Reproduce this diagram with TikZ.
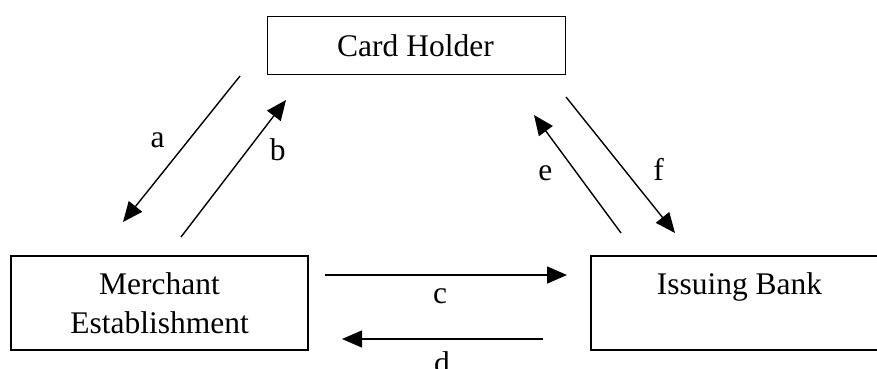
\documentclass[tikz,border=0pt]{standalone}
\usepackage{fontspec}
\setmainfont{Liberation Serif}
\usetikzlibrary{arrows.meta}
\begin{document}
\begin{tikzpicture}[x=1pt,y=-1pt,
  box/.style={draw, line width=1.8pt, inner sep=0pt, align=center,
    font=\fontsize{31.5}{39}\selectfont},
  arr/.style={line width=1.4pt, -{Triangle[length=20pt,width=17pt]}},
  lbl/.style={anchor=base, inner sep=0pt, font=\fontsize{31.5}{39}\selectfont}]
\useasboundingbox (0,0) rectangle (877,368);
\clip (0,0) rectangle (877,368);
% boxes
\node[box, minimum width=298pt, minimum height=58pt] (ch) at (416.5,45.4) {};
\node[lbl] (cht) at (415.5,56) {Card Holder};
\node[box, minimum width=297pt, minimum height=94pt] (me) at (159.5,303) {Merchant\\Establishment};
\node[box, minimum width=297pt, minimum height=94pt] (ib) at (739.5,303) {Issuing Bank\\\mbox{}};
% arrow end points
\coordinate (a1) at (240,76);  \coordinate (a2) at (123,222);
\coordinate (b1) at (181,237); \coordinate (b2) at (286,100);
\coordinate (c1) at (325,275); \coordinate (c2) at (567,275);
\coordinate (d1) at (543,339); \coordinate (d2) at (342,339);
\coordinate (e1) at (621,233); \coordinate (e2) at (534,115);
\coordinate (f1) at (566,97);  \coordinate (f2) at (675,233);
\draw[arr] (a1) -- (a2);
\draw[arr] (b1) -- (b2);
\draw[arr] (c1) -- (c2);
\draw[arr] (d1) -- (d2);
\draw[arr] (e1) -- (e2);
\draw[arr] (f1) -- (f2);
% labels
\node[lbl] (la) at (157.7,147) {a};
\node[lbl] (lb) at (277.7,160.5) {b};
\node[lbl] (lc) at (440,303) {c};
\node[lbl] (ld) at (442,373.5) {d};
\node[lbl] (le) at (545.3,180) {e};
\node[lbl] (lf) at (658.7,180.5) {f};
\end{tikzpicture}
\end{document}
